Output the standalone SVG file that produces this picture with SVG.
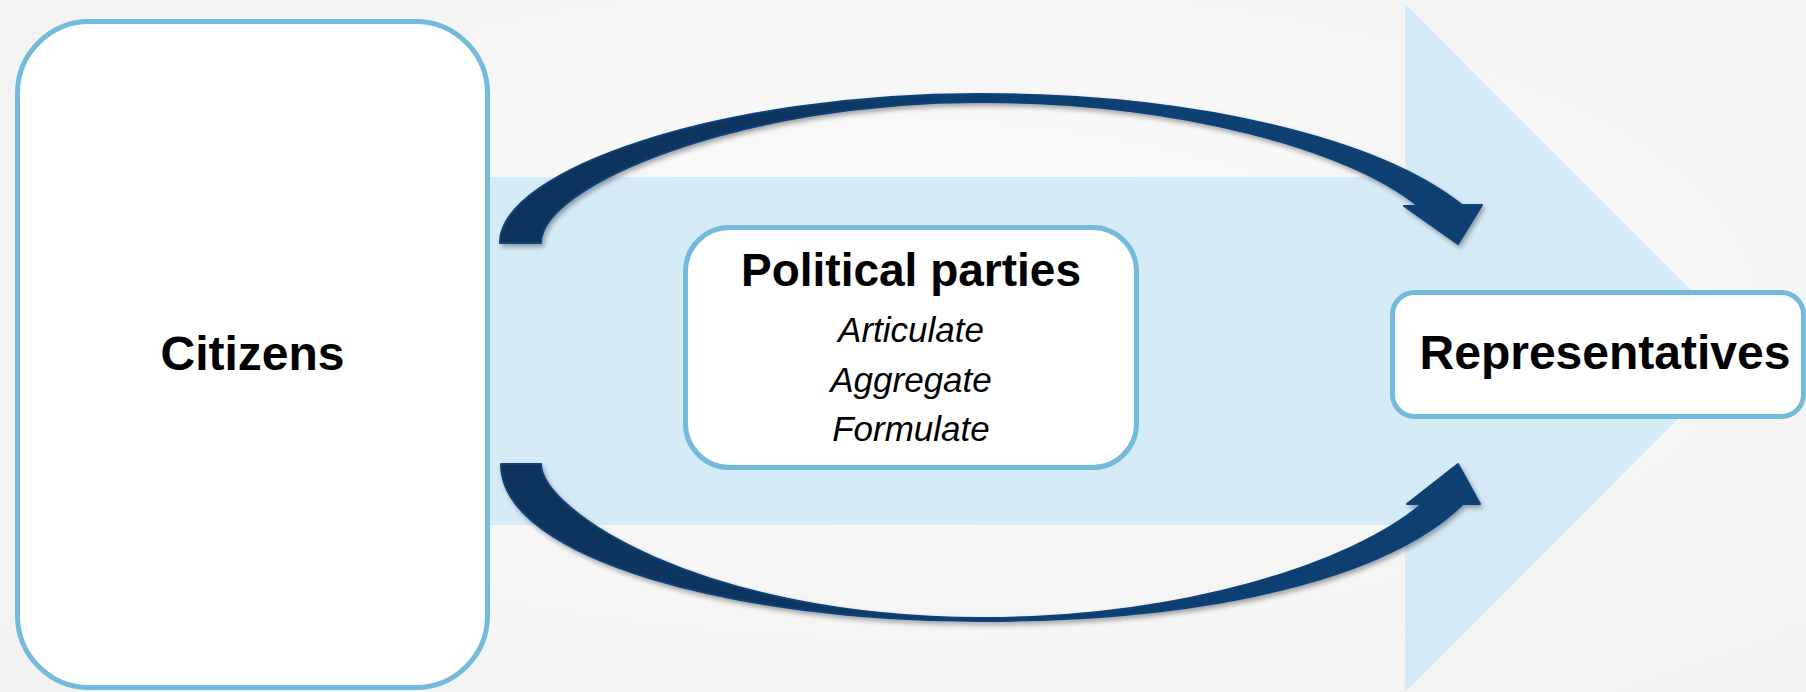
<svg xmlns="http://www.w3.org/2000/svg" width="1806" height="692" viewBox="0 0 1806 692">
  <defs>
    <radialGradient id="bg" cx="0.5" cy="0.45" r="0.75">
      <stop offset="0" stop-color="#FBFBFB"/>
      <stop offset="1" stop-color="#F2F2F2"/>
    </radialGradient>
    <linearGradient id="arrowGrad" gradientUnits="userSpaceOnUse" x1="500" y1="0" x2="1480" y2="0">
      <stop offset="0" stop-color="#0E325B"/>
      <stop offset="0.3" stop-color="#0F365F"/>
      <stop offset="0.45" stop-color="#103F71"/>
      <stop offset="1" stop-color="#103F71"/>
    </linearGradient>
    <filter id="shadow" x="-5%" y="-10%" width="110%" height="130%">
      <feDropShadow dx="2" dy="3" stdDeviation="2.5" flood-color="#000" flood-opacity="0.35"/>
    </filter>
    <style>
      .box { fill: #FFFFFF; stroke: #74BBDB; stroke-width: 5; }
      .title { font-family: "Liberation Sans", Arial, sans-serif; font-weight: bold; fill: #000; text-anchor: middle; }
      .func { font-family: "Liberation Sans", Arial, sans-serif; font-style: italic; font-size: 35px; fill: #000; text-anchor: middle; }
      .arrow { fill: url(#arrowGrad); stroke: #11427A; stroke-width: 2; stroke-linejoin: round; filter: url(#shadow); }
    </style>
  </defs>

  <rect x="0" y="0" width="1806" height="692" fill="url(#bg)"/>

  <!-- big background block arrow -->
  <path id="flow-band" d="M400,177 H1405 V4 L1749,348 L1405,692 V525 H400 Z" fill="#D6EBF8"/>

  <g id="connectors">
    <path id="arrow-top" class="arrow" d="M500,243 C500,170 720,94 980,94 C1200,94 1380,140 1462,205 L1482,205 L1458,244 L1404,206 L1418,206 C1350,150 1180,102 980,102 C740,102 541,185 541,243 Z"/>
    <path id="arrow-bottom" class="arrow" d="M501,464 C501,560 740,621 980,621 C1220,621 1390,575 1463,504 L1480,504 L1458,464 L1407,504 L1422,504 C1350,565 1180,618 980,618 C700,617 541,510 541,464 Z"/>
  </g>

  <g id="node-citizens">
    <rect class="box" x="17.5" y="21.5" width="470" height="666" rx="72" ry="72"/>
    <text class="title" x="252.5" y="370" font-size="48">Citizens</text>
  </g>

  <g id="node-parties">
    <rect class="box" x="685.5" y="227.5" width="451" height="240" rx="44" ry="44"/>
    <text class="title" x="911" y="286" font-size="46">Political parties</text>
    <text class="func" x="911" y="342">Articulate</text>
    <text class="func" x="911" y="392">Aggregate</text>
    <text class="func" x="911" y="441">Formulate</text>
  </g>

  <g id="node-representatives">
    <rect class="box" x="1392.5" y="292.5" width="411" height="124" rx="22" ry="22"/>
    <text class="title" x="1605" y="369" font-size="48">Representatives</text>
  </g>
</svg>
